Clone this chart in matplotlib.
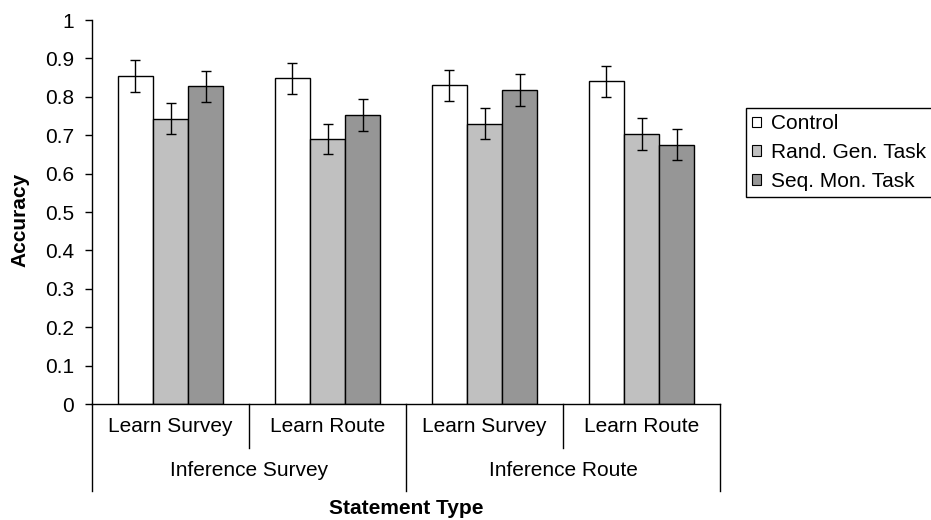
import matplotlib.pyplot as plt
from matplotlib.patches import Patch
from matplotlib.transforms import blended_transform_factory
import numpy as np

plt.rcParams['font.family'] = ['Liberation Sans', 'DejaVu Sans']

learn_labels = ['Learn Survey', 'Learn Route', 'Learn Survey', 'Learn Route']
inference_labels = ['Inference Survey', 'Inference Route']
series_names = ['Control', 'Rand. Gen. Task', 'Seq. Mon. Task']
control = [0.855, 0.848, 0.830, 0.840]
rand_gen = [0.743, 0.690, 0.730, 0.703]
seq_mon = [0.827, 0.752, 0.818, 0.675]
control_err = [0.042, 0.040, 0.040, 0.040]
rand_gen_err = [0.040, 0.040, 0.040, 0.042]
seq_mon_err = [0.040, 0.042, 0.041, 0.040]

colors = ['#ffffff', '#c0c0c0', '#969696']
series = [control, rand_gen, seq_mon]
errs = [control_err, rand_gen_err, seq_mon_err]
fs = 15

fig = plt.figure(figsize=(9.31, 5.2), dpi=100)
ax = fig.add_axes([92 / 931, 1 - 404 / 520, 628 / 931, 384 / 520])

x = np.arange(len(learn_labels))
w = 0.224
for j, (vals, err) in enumerate(zip(series, errs)):
    ax.bar(x + (j - 1) * w, vals, w, color=colors[j], edgecolor='black',
           linewidth=1, label=series_names[j])
    ax.errorbar(x + (j - 1) * w, vals, yerr=err, fmt='none', ecolor='black',
                elinewidth=1, capsize=3.6, capthick=1)

ax.set_xlim(-0.5, len(learn_labels) - 0.5)
ax.set_ylim(0, 1)
ax.set_yticks(np.arange(0, 1.01, 0.1))
ax.set_yticklabels(['0'] + ['%.1f' % v for v in np.arange(0.1, 0.95, 0.1)] + ['1'])
ax.tick_params(axis='y', direction='out', length=5, width=1, labelsize=fs, pad=8)
ax.set_xticks([])
for s in ['top', 'right']:
    ax.spines[s].set_visible(False)
ax.spines['left'].set_linewidth(1)
ax.spines['bottom'].set_linewidth(1)

# multi-level category axis
tr = blended_transform_factory(ax.transData, ax.transAxes)
h = 384.0
for xi, lab in zip(x, learn_labels):
    ax.text(xi, -23 / h, lab, transform=tr, ha='center', va='center', fontsize=fs)
for xb in [0.5, 2.5]:
    ax.plot([xb, xb], [0, -44 / h], transform=tr, color='black', lw=1, clip_on=False)
for xb in [-0.5, 1.5, 3.5]:
    ax.plot([xb, xb], [0, -87 / h], transform=tr, color='black', lw=1, clip_on=False)
for k, lab in enumerate(inference_labels):
    ax.text(0.5 + 2 * k, -66 / h, lab, transform=tr, ha='center', va='center', fontsize=fs)

fig.text(406 / 931, 1 - 508 / 520, 'Statement Type', ha='center', va='center',
         fontsize=fs, fontweight='bold')
fig.text(20 / 931, 1 - 220 / 520, 'Accuracy', ha='center', va='center',
         rotation=90, fontsize=fs, fontweight='bold')

handles = [Patch(facecolor=c, edgecolor='black', linewidth=0.8) for c in colors]
leg = fig.legend(handles, series_names, loc='upper left',
                 bbox_to_anchor=(746 / 931, 1 - 108 / 520), fontsize=fs,
                 frameon=True, fancybox=False, shadow=False, framealpha=1,
                 edgecolor='black', handlelength=0.4, handleheight=0.4,
                 handletextpad=0.5, labelspacing=0.47, borderpad=0.3,
                 borderaxespad=0)
leg.get_frame().set_linewidth(1)

fig.savefig('out.png', dpi=100)
